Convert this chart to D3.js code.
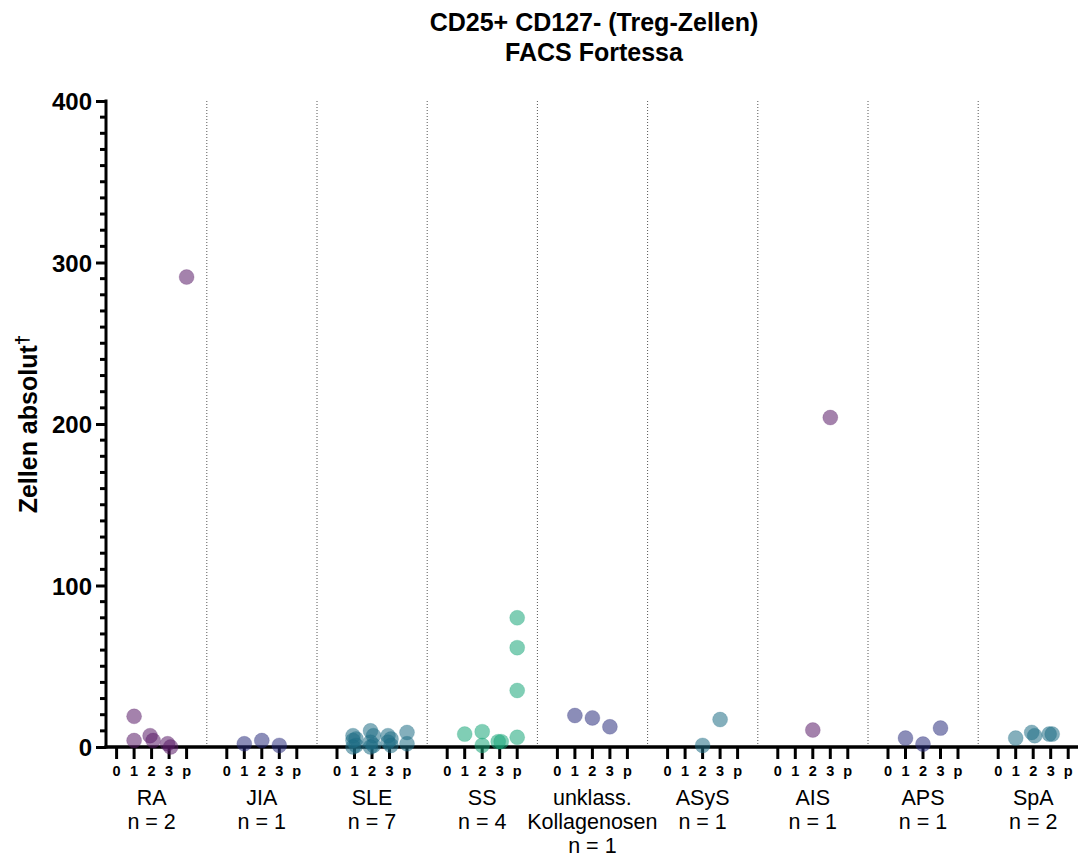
<!DOCTYPE html>
<html>
<head>
<meta charset="utf-8">
<script src="https://cdn.jsdelivr.net/npm/d3@7"></script>
<style>
  body { margin: 0; background: #fff; }
  svg text { font-family: "Liberation Sans", Arial, sans-serif; }
</style>
</head>
<body>
<div id="plot"></div>
<script>
// data
var groups = ["RA", "JIA", "SLE", "SS", "unklass", "ASyS", "AIS", "APS", "SpA"];
var groupLabels = [
  ["RA", "n = 2"], ["JIA", "n = 1"], ["SLE", "n = 7"], ["SS", "n = 4"],
  ["unklass.", "Kollagenosen", "n = 1"], ["ASyS", "n = 1"], ["AIS", "n = 1"],
  ["APS", "n = 1"], ["SpA", "n = 2"]
];
var timepoints = ["0", "1", "2", "3", "p"];
var yTicks = [0, 100, 200, 300, 400];

// values per timepoint (0, 1, 2, 3, p)
var raVals      = [[], [19, 4], [7, 4], [2, 0], [291]];
var jiaVals     = [[], [2], [4], [1], []];
var sleVals     = [[], [7, 5, 4, 1, 0], [10, 7, 3, 1, 0], [7, 5, 3, 1], [9, 2]];
var ssVals      = [[], [8], [9.5, 1], [3.3, 3.3], [80, 61.5, 35, 6]];
var unklassVals = [[], [19.5], [18], [12.5], []];
var asysVals    = [[], [], [1], [17], []];
var aisVals     = [[], [], [10.5], [204], []];
var apsVals     = [[], [5.5], [1.8], [11.7], []];
var spaVals     = [[], [5.5], [9, 7], [8, 8], []];
var allVals = [raVals, jiaVals, sleVals, ssVals, unklassVals, asysVals, aisVals, apsVals, spaVals];

var groupColors = ["#5a1c68", "#2c2f7d", "#1f6e85", "#17a679", "#2c2f7d", "#1f6e85", "#5a1c68", "#2c2f7d", "#1f6e85"];

var width = 1078, height = 858;
var axisX = 106, axisTop = 101, axisBottom = 747;

var svg = d3.select("#plot").append("svg")
  .attr("width", width).attr("height", height);

var y = d3.scaleLinear().domain([0, 400]).range([axisBottom, axisTop]);
var xGroup = d3.scaleBand().domain(groups).range([96.5, 1088.3]).padding(0);
var xSlot = d3.scalePoint().domain(timepoints).range([-35, 35]);

function cx(g, t) { return xGroup(g) + xGroup.bandwidth() / 2 + xSlot(t); }

// title
svg.append("text").attr("x", 594).attr("y", 31).attr("text-anchor", "middle")
  .style("font-size", "25px").style("font-weight", "bold").text("CD25+ CD127- (Treg-Zellen)");
svg.append("text").attr("x", 594).attr("y", 61).attr("text-anchor", "middle")
  .style("font-size", "25px").style("font-weight", "bold").text("FACS Fortessa");

// separators
groups.slice(1).forEach(function(g) {
  var sx = xGroup(g) + xSlot("0") + xGroup.bandwidth() / 2 - 20;
  svg.append("line")
    .attr("x1", sx).attr("x2", sx).attr("y1", axisTop).attr("y2", axisBottom - 2)
    .attr("stroke", "#555").attr("stroke-width", 1).attr("stroke-dasharray", "1,2");
});

// y axis
var yAxis = d3.axisLeft(y).tickValues(yTicks).tickSize(10).tickPadding(4);
var gy = svg.append("g").attr("transform", "translate(" + axisX + ",0)").call(yAxis);
gy.select(".domain").attr("stroke-width", 3).attr("d", "M0," + (axisBottom + 1.5) + "V" + (axisTop - 1.5));
gy.selectAll(".tick line").attr("stroke-width", 3);
gy.selectAll(".tick text").style("font-size", "24px").style("font-weight", "bold")
  .style("font-family", "'Liberation Sans', Arial, sans-serif").attr("dy", "0.36em");
var minor = d3.range(10, 400, 10).filter(function(v) { return v % 100 !== 0; });
svg.append("g").selectAll("line").data(minor).enter().append("line")
  .attr("x1", axisX - 6).attr("x2", axisX).attr("y1", function(d) { return y(d); }).attr("y2", function(d) { return y(d); })
  .attr("stroke", "#000").attr("stroke-width", 3);

// y label
svg.append("text")
  .attr("transform", "translate(37," + ((axisTop + axisBottom) / 2) + ") rotate(-90)")
  .attr("text-anchor", "middle")
  .style("font-size", "25px").style("font-weight", "bold")
  .text("Zellen absolut")
  .append("tspan").attr("dy", "-0.45em").style("font-size", "19px").text("\u2020");

// x axis
svg.append("line").attr("x1", axisX - 1.5).attr("x2", width).attr("y1", axisBottom).attr("y2", axisBottom)
  .attr("stroke", "#000").attr("stroke-width", 3.5);

groups.forEach(function(g, i) {
  timepoints.forEach(function(t) {
    var x = cx(g, t);
    svg.append("line").attr("x1", x).attr("x2", x).attr("y1", axisBottom).attr("y2", axisBottom + 12)
      .attr("stroke", "#000").attr("stroke-width", 3);
    svg.append("text").attr("x", x).attr("y", 776).attr("text-anchor", "middle")
      .style("font-size", "14.5px").style("font-weight", "bold").text(t);
  });
  var center = xGroup(g) + xGroup.bandwidth() / 2;
  groupLabels[i].forEach(function(line, k) {
    svg.append("text").attr("x", center).attr("y", 805 + k * 24).attr("text-anchor", "middle")
      .style("font-size", "21.5px").text(line);
  });
});

// points
var pts = [];
groups.forEach(function(g, i) {
  timepoints.forEach(function(t, j) {
    var vals = allVals[i][j];
    vals.forEach(function(v, k) {
      var close = vals.some(function(w, m) { return m !== k && Math.abs(w - v) < 4; });
      pts.push({ g: g, t: t, v: v, c: groupColors[i], dx: close ? (k % 2 ? 1.5 : -1.5) : 0 });
    });
  });
});

svg.append("g").selectAll("circle").data(pts).enter().append("circle")
  .attr("cx", function(d) { return cx(d.g, d.t) + d.dx; })
  .attr("cy", function(d) { return y(d.v); })
  .attr("r", 7.5)
  .attr("fill", function(d) { return d.c; })
  .attr("fill-opacity", 0.55)
  .attr("stroke", function(d) { return d.c; })
  .attr("stroke-opacity", 0.2)
  .attr("stroke-width", 1);
</script>
</body>
</html>
